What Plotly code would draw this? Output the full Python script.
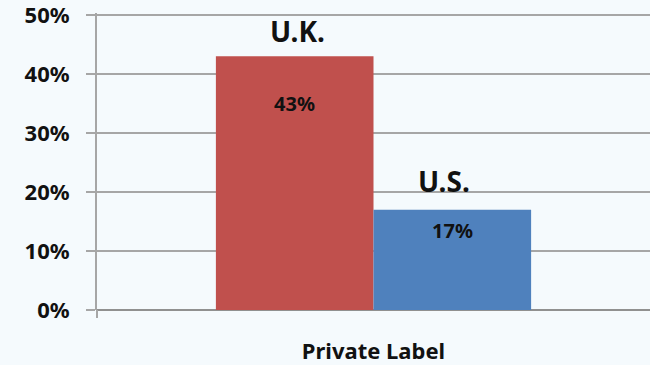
import plotly.graph_objects as go

# Share of sales, private label products
categories = ["Private Label"]
countries = ["U.K.", "U.S."]
uk_share = [43]
us_share = [17]
tick_values = [0, 10, 20, 30, 40, 50]
tick_labels = ["0%", "10%", "20%", "30%", "40%", "50%"]

colors = {"U.K.": "#c0504d", "U.S.": "#4f81bd"}
font_family = "Noto Sans"
bargap = 0.43

fig = go.Figure()
for name, vals in zip(countries, [uk_share, us_share]):
    fig.add_trace(go.Bar(
        x=categories, y=vals, name=name,
        marker=dict(color=colors[name], line=dict(width=0)),
        hoverinfo="skip",
    ))

# Country name above each bar, value inside near the top
half = (1 - bargap) / 2
centers = [-half / 2, half / 2]
name_shift = [(3, 4), (-8, 8)]
value_shift = [-47, -21]
for i, (name, vals) in enumerate(zip(countries, [uk_share, us_share])):
    v = vals[0]
    fig.add_annotation(
        x=centers[i], y=v, xref="x", yref="y", text=f"<b>{name}</b>",
        showarrow=False, yanchor="bottom", xshift=name_shift[i][0],
        yshift=name_shift[i][1],
        font=dict(family=font_family, size=28, color="#111111"),
    )
    fig.add_annotation(
        x=centers[i], y=v, xref="x", yref="y", text=f"<b>{v}%</b>",
        showarrow=False, yanchor="middle", yshift=value_shift[i],
        font=dict(family=font_family, size=20, color="#111111"),
    )

# Short downward tick continuing the value axis below the baseline
fig.add_shape(type="line", xref="paper", yref="paper", x0=0, x1=0,
              ysizemode="pixel", yanchor=0, y0=0, y1=-8,
              line=dict(color="#a6a6a6", width=2))

fig.update_layout(
    width=650, height=365, autosize=False,
    margin=dict(l=97, r=0, t=13, b=55, autoexpand=False),
    paper_bgcolor="#f5fafd",
    plot_bgcolor="rgba(0,0,0,0)",
    barmode="group", bargap=bargap, bargroupgap=0,
    showlegend=False,
    font=dict(family=font_family, color="#111111"),
)
fig.update_yaxes(
    range=[0, 50.35], tickvals=tick_values, ticktext=[f"<b>{t}</b>" for t in tick_labels],
    showgrid=True, gridcolor="#a6a6a6", gridwidth=2,
    showline=True, linecolor="#a6a6a6", linewidth=2,
    zeroline=True, zerolinecolor="#909090", zerolinewidth=2,
    ticks="outside", ticklen=9, tickcolor="#a6a6a6", tickwidth=2,
    ticklabelstandoff=12, ticklabeloverflow="allow",
    tickfont=dict(family=font_family, size=22, color="#111111"),
    fixedrange=True,
)
fig.update_xaxes(
    range=[-0.5, 0.5],
    showline=False, ticks="", showgrid=False, zeroline=False,
    ticktext=[f"<b>{c}</b>" for c in categories], tickvals=categories,
    ticklabelstandoff=26, ticklabeloverflow="allow",
    tickfont=dict(family=font_family, size=22, color="#111111"),
    fixedrange=True,
)

fig.write_html("out.html", config={"displayModeBar": False})
